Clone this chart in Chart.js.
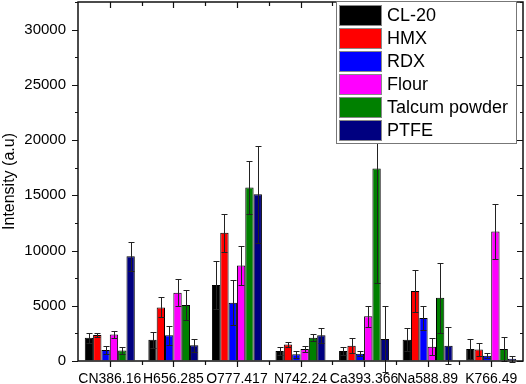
<!DOCTYPE html>
<html>
<head>
<meta charset="utf-8">
<script src="https://cdn.jsdelivr.net/npm/chart.js@4.4.0/dist/chart.umd.min.js"></script>
<style>
  body { margin: 0; background: #fff; }
  #wrap { width: 526px; height: 384px; }
</style>
</head>
<body>
<div id="wrap"><canvas id="chart" width="526" height="384"></canvas></div>
<script>
// categorias (linhas espectrais)
const categories = ["CN386.16", "H656.285", "O777.417", "N742.24", "Ca393.366", "Na588.89", "K766.49"];

// valores médios e desvios de cada amostra
const cl20 = [2100, 1930, 6870, 900, 900, 1930, 1080];
const cl20Err = [450, 720, 2200, 330, 400, 1030, 930];
const hmx = [2350, 4850, 11600, 1500, 1390, 6330, 1050];
const hmxErr = [200, 900, 1750, 240, 700, 1900, 560];
const rdx = [1000, 2320, 5280, 600, 660, 3900, 480];
const rdxErr = [350, 870, 2050, 300, 250, 1100, 250];
const flour = [2410, 6180, 8650, 1090, 4040, 1300, 11720];
const flourErr = [330, 1200, 1800, 270, 960, 760, 2530];
const talc = [940, 5060, 15700, 2110, 17420, 5720, 1090];
const talcErr = [300, 1380, 2400, 330, 10400, 3170, 1110];
const ptfe = [9490, 1420, 15100, 2320, 1990, 1390, 210];
const ptfeErr = [1300, 570, 4400, 660, 2950, 1660, 270];

const yTicks = [0, 5000, 10000, 15000, 20000, 25000, 30000];

const series = [
    { label: "CL-20", data: cl20, err: cl20Err, color: "#000000" },
    { label: "HMX", data: hmx, err: hmxErr, color: "#ff0000" },
    { label: "RDX", data: rdx, err: rdxErr, color: "#0000ff" },
    { label: "Flour", data: flour, err: flourErr, color: "#ff00ff" },
    { label: "Talcum powder", data: talc, err: talcErr, color: "#008000" },
    { label: "PTFE", data: ptfe, err: ptfeErr, color: "#000080" }
];

const FONT = "'Liberation Sans', Arial, sans-serif";

// barras de erro (simétricas, com "caps" nas duas pontas)
function drawErrorBars(chart) {
    const ctx = chart.ctx;
    const y = chart.scales.y;
    ctx.save();
    ctx.strokeStyle = "#222";
    ctx.lineWidth = 1;
    chart.data.datasets.forEach((ds, di) => {
        const meta = chart.getDatasetMeta(di);
        meta.data.forEach((bar, i) => {
            const v = ds.data[i];
            const e = ds.err[i];
            const x = Math.round(bar.x) + 0.5;
            const yt = Math.round(y.getPixelForValue(v + e)) + 0.5;
            const yb = Math.round(y.getPixelForValue(v - e)) + 0.5;
            ctx.beginPath();
            ctx.moveTo(x, yt);
            ctx.lineTo(x, yb);
            ctx.moveTo(x - 3, yt);
            ctx.lineTo(x + 3, yt);
            ctx.moveTo(x - 3, yb);
            ctx.lineTo(x + 3, yb);
            ctx.stroke();
        });
    });
    ctx.restore();
}

// moldura com ticks maiores e menores nos quatro lados
function drawFrame(chart) {
    const ctx = chart.ctx;
    const area = chart.chartArea;
    const left = area.left, right = area.right, top = area.top, bottom = area.bottom;
    const x = chart.scales.x;
    const y = chart.scales.y;
    ctx.save();
    ctx.strokeStyle = "#111";
    ctx.lineWidth = 1.5;
    ctx.beginPath();
    ctx.rect(left, top, right - left, bottom - top);
    ctx.stroke();
    ctx.lineWidth = 1.2;
    ctx.beginPath();
    for (let v = 0; v <= 32500; v += 2500) {
        const py = Math.round(y.getPixelForValue(v)) + 0.5;
        const len = v % 5000 === 0 ? 6 : 3;
        ctx.moveTo(left - len, py);
        ctx.lineTo(left, py);
        ctx.moveTo(right, py);
        ctx.lineTo(right - len, py);
    }
    for (let i = 0; i < categories.length; i++) {
        const px = Math.round(x.getPixelForValue(i)) + 0.5;
        ctx.moveTo(px, bottom);
        ctx.lineTo(px, bottom + 6);
        ctx.moveTo(px, top);
        ctx.lineTo(px, top + 6);
        if (i < categories.length - 1) {
            const pm = Math.round(x.getPixelForValue(i + 0.5)) + 0.5;
            ctx.moveTo(pm, bottom);
            ctx.lineTo(pm, bottom + 4);
            ctx.moveTo(pm, top);
            ctx.lineTo(pm, top + 4);
        }
    }
    ctx.stroke();
    ctx.restore();
}

// legenda desenhada dentro da área do gráfico, por cima das barras
function drawLegend(chart) {
    const ctx = chart.ctx;
    const bx = 336.5, by = 1.5, bw = 180, bh = 142;
    ctx.save();
    ctx.fillStyle = "#fff";
    ctx.fillRect(bx, by, bw, bh);
    ctx.strokeStyle = "#777";
    ctx.lineWidth = 1;
    ctx.strokeRect(bx, by, bw, bh);
    ctx.font = "18px " + FONT;
    ctx.textBaseline = "middle";
    series.forEach((s, i) => {
        const sy = 5 + i * 23;
        ctx.fillStyle = s.color;
        ctx.fillRect(339.5, sy + 0.5, 42, 20);
        ctx.strokeStyle = "#888";
        ctx.strokeRect(339.5, sy + 0.5, 42, 20);
        ctx.fillStyle = "#000";
        ctx.fillText(s.label, 387, sy + 11);
    });
    ctx.restore();
}

const overlay = {
    id: "overlay",
    afterDraw(chart) {
        drawErrorBars(chart);
        drawFrame(chart);
        drawLegend(chart);
    }
};

new Chart(document.getElementById("chart"), {
    type: "bar",
    data: {
        labels: categories,
        datasets: series.map(s => ({
            label: s.label,
            data: s.data,
            err: s.err,
            backgroundColor: s.color,
            borderColor: "#000",
            borderWidth: 1,
            categoryPercentage: 0.787,
            barPercentage: 1.0
        }))
    },
    options: {
        responsive: false,
        animation: false,
        layout: { padding: { top: 2, right: 3 } },
        plugins: {
            legend: { display: false },
            tooltip: { enabled: false }
        },
        scales: {
            x: {
                grid: { display: false },
                border: { display: false },
                ticks: {
                    color: "#000",
                    padding: 2,
                    maxRotation: 0,
                    autoSkip: false,
                    font: { family: FONT, size: 14 }
                },
                afterFit: s => { s.height = 23; }
            },
            y: {
                min: 0,
                max: 32500,
                grid: {
                    display: true,
                    drawOnChartArea: false,
                    drawTicks: true,
                    tickLength: 12,
                    color: "rgba(0,0,0,0)"
                },
                border: { display: false },
                afterBuildTicks: s => { s.ticks = yTicks.map(v => ({ value: v })); },
                ticks: {
                    color: "#000",
                    padding: 0,
                    font: { family: FONT, size: 15, lineHeight: 0.2 },
                    callback: v => String(v)
                },
                title: {
                    display: true,
                    text: "Intensity (a.u)",
                    color: "#000",
                    font: { family: FONT, size: 16 },
                    padding: { top: 0, bottom: 0 }
                },
                afterFit: s => { s.width = 78; }
            }
        }
    },
    plugins: [overlay]
});
</script>
</body>
</html>
